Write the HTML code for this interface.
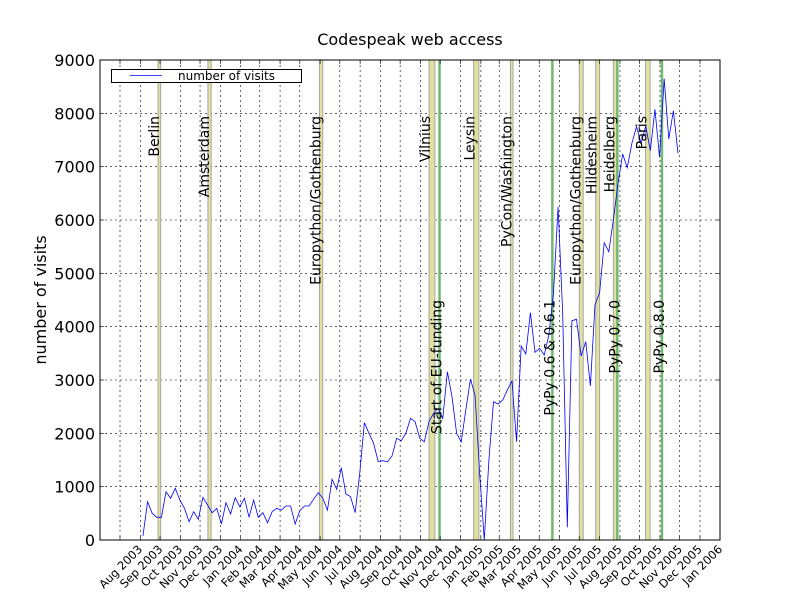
<!DOCTYPE html>
<html><head><meta charset="utf-8"><style>
body{margin:0;background:#fff;}
svg{display:block;font-family:"DejaVu Sans","Liberation Sans",sans-serif;}
</style></head><body>
<svg id="chart" width="800" height="600" viewBox="0 0 800 600">
<rect x="0" y="0" width="800" height="600" fill="#fff"/>
<text x="410" y="45" text-anchor="middle" font-size="16">Codespeak web access</text>
<text transform="translate(46,300) rotate(-90)" text-anchor="middle" font-size="16">number of visits</text>
<g id="grid"></g><g id="bands"></g><g id="series"></g><g id="labels"></g><g id="axes"></g>
<g>
<rect x="111.5" y="69.5" width="190" height="13" fill="#fff" stroke="#000" stroke-width="1"/>
<line x1="130" y1="75.5" x2="162" y2="75.5" stroke="#0000ff" stroke-width="0.8"/>
<text x="178" y="80" font-size="12">number of visits</text>
</g>
</svg>
<script>
const yTicks = [0,1000,2000,3000,4000,5000,6000,7000,8000,9000];
const monthNames = ["Jan","Feb","Mar","Apr","May","Jun","Jul","Aug","Sep","Oct","Nov","Dec"];
const xTickStart = [2003,7];
const xTickCount = 30;
const seriesStart = "2003-09-05";
const seriesStepDays = 7.03;
const visits = [75,718,500,425,425,905,782,969,750,594,343,531,388,800,656,512,594,300,700,488,793,624,782,425,750,425,512,324,531,594,562,638,638,300,549,638,638,763,887,782,562,1138,951,1356,862,812,512,1251,2199,2001,1813,1468,1487,1468,1575,1907,1862,2001,2282,2218,1907,1843,2218,2376,2469,2282,3156,2687,2001,1843,2438,3013,2719,1251,0,1500,2593,2550,2625,2813,2981,1843,3638,3488,4262,3519,3594,3469,3844,4626,6249,4251,238,4112,4138,3450,3718,2888,4406,4637,5574,5406,6013,6688,7238,6981,7438,7749,7438,7763,7299,8076,7176,8650,7519,8049,7251];
const eventNames = ["Berlin","Amsterdam","Europython/Gothenburg","Vilnius","Leysin","PyCon/Washington","Europython/Gothenburg","Hildesheim","Heidelberg","Paris"];
const eventStarts = ["2003-09-28","2003-12-13","2004-05-31","2004-11-14","2005-01-21","2005-03-18","2005-07-01","2005-07-26","2005-08-22","2005-10-10"];
const eventEnds = ["2003-10-02","2003-12-18","2004-06-05","2004-11-23","2005-01-29","2005-03-22","2005-07-07","2005-08-01","2005-08-29","2005-10-17"];
const releaseNames = ["Start of EU-funding","PyPy 0.6 & 0.6.1","PyPy 0.7.0","PyPy 0.8.0"];
const releaseDates = ["2004-11-30","2005-05-21","2005-08-28","2005-11-04"];

const NS="http://www.w3.org/2000/svg";
const L=100,R=720,T=60,B=540;
const t0=Date.UTC(2003,7,1), t1=Date.UTC(2006,0,1);
function xs(ms){return 120+(ms-t0)/(t1-t0)*580;}
function xd(s){const p=s.split("-");return xs(Date.UTC(+p[0],+p[1]-1,+p[2]));}
function ys(v){return B-(v/9000)*(B-T);}
function mk(tag,attrs,parent){const e=document.createElementNS(NS,tag);for(const k in attrs)e.setAttribute(k,attrs[k]);parent.appendChild(e);return e;}
const grid=document.getElementById("grid"),bands=document.getElementById("bands"),series=document.getElementById("series"),labels=document.getElementById("labels"),axes=document.getElementById("axes");

for(let i=0;i<xTickCount;i++){
  const m=(xTickStart[1]+i)%12, y=xTickStart[0]+Math.floor((xTickStart[1]+i)/12);
  const x=xs(Date.UTC(y,m,1));
  const g=mk("line",{x1:x,y1:T,x2:x,y2:B,stroke:"#000","stroke-width":0.6,"stroke-dasharray":"2,3"},grid);
  
  
  const tk=mk("line",{x1:x,y1:B,x2:x,y2:B-4,stroke:"#000","stroke-width":0.6},axes);
  
  
  const tk2=mk("line",{x1:x,y1:T,x2:x,y2:T+4,stroke:"#000","stroke-width":0.6},axes);
  
  
  const tx=mk("text",{x:0,y:0,"font-size":11.5,"text-anchor":"end",transform:"translate("+(x+23)+",550) rotate(-45)"},axes);
  tx.textContent=monthNames[m]+" "+y;
  
  
}
yTicks.forEach(v=>{
  const y=ys(v);
  if(v>0&&v<9000){
    const g=mk("line",{x1:L,y1:y,x2:R,y2:y,stroke:"#000","stroke-width":0.6,"stroke-dasharray":"2,3"},grid);
    
    
  }
  const tk=mk("line",{x1:L,y1:y,x2:L+4,y2:y,stroke:"#000","stroke-width":0.6},axes);
  
  
  const tk2=mk("line",{x1:R,y1:y,x2:R-4,y2:y,stroke:"#000","stroke-width":0.6},axes);
  
  
  const tx=mk("text",{x:L-5,y:y+6,"font-size":16,"text-anchor":"end"},axes);
  tx.textContent=v;
  
  
});
eventNames.forEach((n,i)=>{
  const x0=xd(eventStarts[i]),x1=xd(eventEnds[i]);
  const r=mk("rect",{x:x0,y:T,width:Math.max(x1-x0,2),height:B-T,fill:"#e0e0a0",stroke:"#a8a8a0","stroke-width":1},bands);
  
  
  const tx=mk("text",{x:0,y:0,"font-size":14,transform:"translate("+(x0+1)+",116) rotate(-90)","text-anchor":"end"},labels);
  tx.textContent=n;
  
  
});
releaseNames.forEach((n,i)=>{
  const x=xd(releaseDates[i]);
  const l=mk("line",{x1:x,y1:T,x2:x,y2:B,stroke:"#70b870","stroke-width":2.5},bands);
  
  
  const tx=mk("text",{x:0,y:0,"font-size":14,transform:"translate("+(x+2)+",300) rotate(-90)","text-anchor":"end"},labels);
  tx.textContent=n;
  
  
});
const sp=seriesStart.split("-");const s0=Date.UTC(+sp[0],+sp[1]-1,+sp[2]);
const pts=visits.map((v,i)=>xs(s0+i*seriesStepDays*86400000).toFixed(2)+","+ys(v).toFixed(2)).join(" ");
const pl=mk("polyline",{points:pts,fill:"none",stroke:"#0000ff","stroke-width":0.8},series);


const fr=mk("rect",{x:L,y:T,width:R-L,height:B-T,fill:"none",stroke:"#000","stroke-width":1},axes);


</script>
</body></html>
